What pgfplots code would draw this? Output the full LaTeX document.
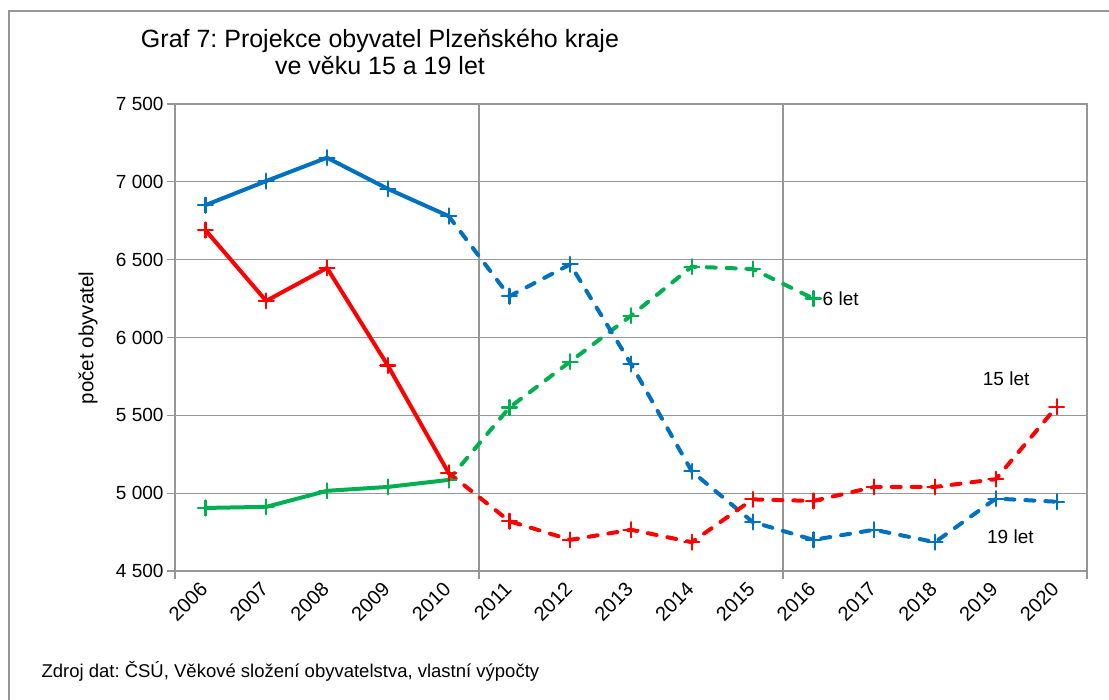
\documentclass[border=0pt]{standalone}
\usepackage{pgfplots}
\pgfplotsset{compat=1.18}
\usepackage{fontspec}
\setmainfont{Liberation Sans}
\frenchspacing
\definecolor{cblue}{RGB}{0,112,192}
\definecolor{cred}{RGB}{255,0,0}
\definecolor{cgreen}{RGB}{0,176,80}
\definecolor{cgrid}{RGB}{150,150,150}
\begin{document}
\begin{tikzpicture}[x=1pt,y=1pt]
\useasboundingbox (0,0) rectangle (1109,700);
\fill[white] (0,0) rectangle (1109,700);
\draw[cgrid, line width=2.5pt] (9,-20) -- (9,689) -- (1130,689);
\node[font=\fontsize{25}{27}\selectfont, align=center] at (380,648) {Graf 7: Projekce obyvatel Plzeňského kraje\\ve věku 15 a 19 let};
\node[font=\fontsize{18.5}{20}\selectfont, anchor=west] at (38,29) {Zdroj dat: ČSÚ, Věkové složení obyvatelstva, vlastní výpočty};
\node[font=\fontsize{20.5}{22}\selectfont, rotate=90] at (88,362) {počet obyvatel};
\begin{axis}[at={(175pt,129pt)}, anchor=south west, scale only axis,
  width=912pt, height=467pt,
  xmin=-0.5, xmax=14.5, ymin=4500, ymax=7500,
  axis line style={cgrid, line width=1.2pt},
  grid style={cgrid, line width=1.2pt},
  ymajorgrids, xmajorgrids,
  tick align=outside, major tick length=8pt,
  xtick pos=bottom, ytick pos=left,
  tick style={cgrid, line width=1.2pt},
  ytick={4500,5000,5500,6000,6500,7000,7500},
  yticklabels={4 500,5 000,5 500,6 000,6 500,7 000,7 500},
  yticklabel style={font=\fontsize{19}{21}\selectfont, text=black},
  xtick={-0.5,4.5,9.5,14.5}, xticklabels={},
  extra x ticks={0,1,2,3,4,5,6,7,8,9,10,11,12,13,14},
  extra x tick labels={2006,2007,2008,2009,2010,2011,2012,2013,2014,2015,2016,2017,2018,2019,2020},
  extra x tick style={grid=none, major tick length=0pt,
    xticklabel style={rotate=45, anchor=east, font=\fontsize{20}{22}\selectfont, text=black, yshift=-9.5pt, xshift=-8.2pt}},
  clip=false,
  every axis plot/.append style={line width=4pt, mark=+, mark size=7.5pt, mark options={solid, line width=2.2pt}, line cap=round, line join=round},
]
% green: 6 let
\addplot[cgreen] coordinates {(0,4905) (1,4912) (2,5015) (3,5040) (4,5085)};
\addplot[cgreen, dash pattern=on 9pt off 11pt] coordinates {(4,5085) (5,5550) (6,5845) (7,6140) (8,6455) (9,6440) (10,6250)};
% blue: 19 let
\addplot[cblue] coordinates {(0,6850) (1,7005) (2,7155) (3,6955) (4,6780)};
\addplot[cblue, dash pattern=on 9pt off 11pt] coordinates {(4,6780) (5,6265) (6,6470) (7,5830) (8,5140) (9,4815) (10,4700) (11,4765) (12,4685) (13,4965) (14,4945)};
% red: 15 let
\addplot[cred] coordinates {(0,6690) (1,6235) (2,6447) (3,5820) (4,5130)};
\addplot[cred, dash pattern=on 9pt off 11pt] coordinates {(4,5130) (5,4820) (6,4700) (7,4765) (8,4685) (9,4960) (10,4950) (11,5040) (12,5040) (13,5090) (14,5555)};
\node[anchor=west, font=\fontsize{19}{21}\selectfont, inner sep=0pt] at (axis cs:10.15,6250) {6 let};
\node[font=\fontsize{19}{21}\selectfont] at (axis cs:13.17,5734) {15 let};
\node[font=\fontsize{19}{21}\selectfont] at (axis cs:13.24,4719) {19 let};
\end{axis}
\end{tikzpicture}
\end{document}
